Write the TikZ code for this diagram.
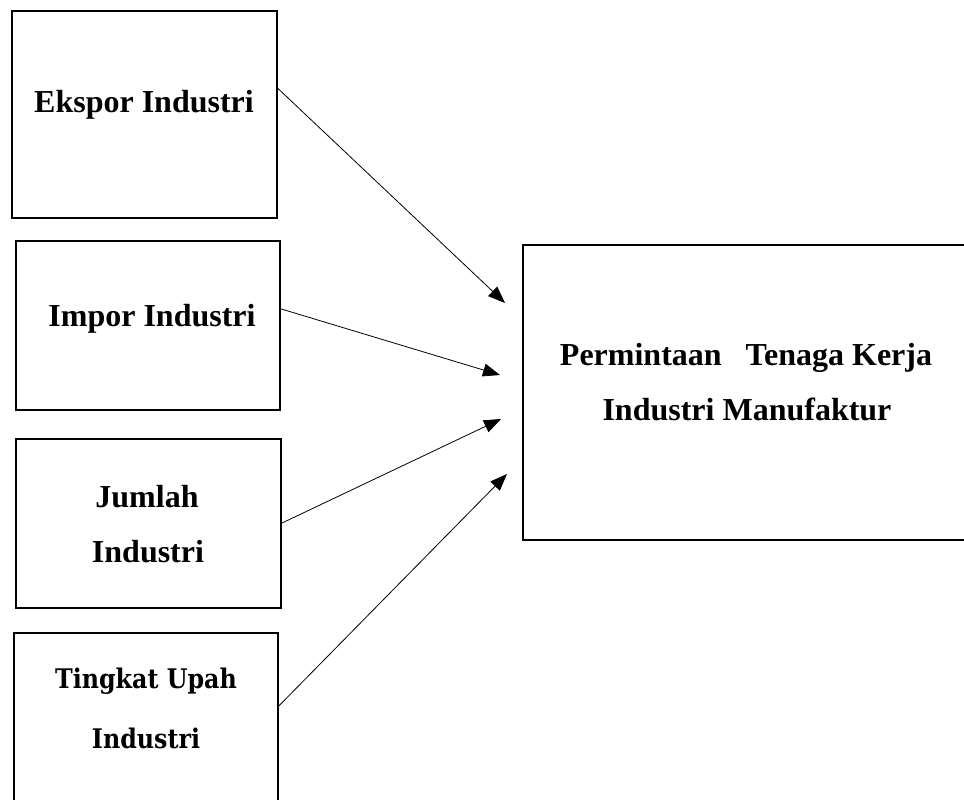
\documentclass[tikz,border=0pt]{standalone}
\usepackage{fontspec}
\setmainfont{Liberation Serif}
\newfontfamily\cambria[FakeStretch=0.88]{DejaVu Serif}
\usetikzlibrary{arrows.meta,calc}
\tikzset{
  box/.style={draw=black, line width=1.6pt, fill=none, inner sep=0pt, outer sep=0pt},
  lbl/.style={anchor=base, inner sep=0pt, font=\fontsize{32}{36}\selectfont\bfseries},
  lblc/.style={anchor=base, inner sep=0pt, font=\fontsize{27}{32}\selectfont\cambria\bfseries},
  conn/.style={line width=0.8pt, -{Triangle[length=17pt,width=13pt]}}
}
\begin{document}
\begin{tikzpicture}[x=1pt,y=-1pt]
\useasboundingbox (0,0) rectangle (964,800);
\clip (0,0) rectangle (964,800);
\fill[white] (0,0) rectangle (964,800);
% boxes
\node[box, minimum width=265pt, minimum height=207pt] (b1) at (144.5,114.5) {};
\node[box, minimum width=264pt, minimum height=169pt] (b2) at (148,325.5) {};
\node[box, minimum width=265pt, minimum height=169pt] (b3) at (148.5,523.5) {};
\node[box, minimum width=264pt, minimum height=180pt] (b4) at (146,723) {};
\node[box, minimum width=450pt, minimum height=295pt] (b5) at (748,392.5) {};
% texts
\node[lbl] (t1) at (144,113) {Ekspor Industri};
\node[lbl] (t2) at (152,326) {Impor Industri};
\node[lbl] (t3a) at (147,507) {Jumlah};
\node[lbl] (t3b) at (148,562) {Industri};
\node[lblc] (t4a) at (146,688) {Tingkat Upah};
\node[lblc] (t4b) at (146,748) {Industri};
\node[lbl] (t5a) at (746,365) {Permintaan\hspace{0.75em}Tenaga Kerja};
\node[lbl] (t5b) at (747,420) {Industri Manufaktur};
% connector ends
\coordinate (s1) at ($(b1.north east)!0.37!(b1.south east)$);
\coordinate (s2) at ($(b2.north east)!0.40!(b2.south east)$);
\coordinate (s3) at ($(b3.north east)!0.50!(b3.south east)$);
\coordinate (s4) at ($(b4.north east)!0.41!(b4.south east)$);
\coordinate (e1) at (505,303);
\coordinate (e2) at (500,375);
\coordinate (e3) at (501,419);
\coordinate (e4) at (507,474);
\draw[conn] (s1) -- (e1);
\draw[conn] (s2) -- (e2);
\draw[conn] (s3) -- (e3);
\draw[conn] (s4) -- (e4);
\end{tikzpicture}
\end{document}
